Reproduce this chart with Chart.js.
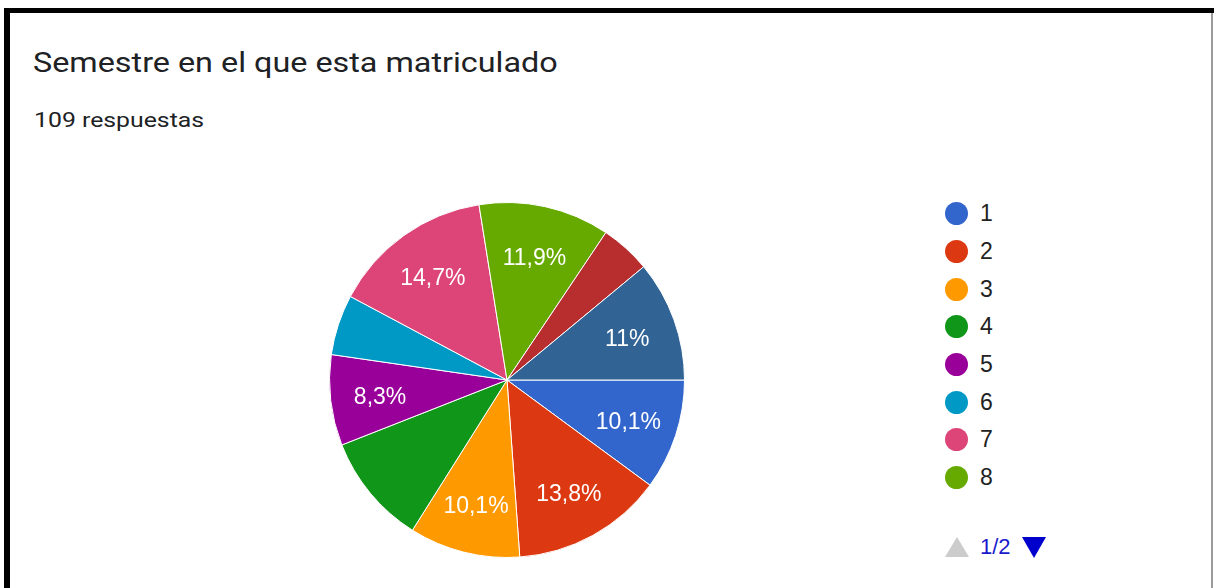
<!DOCTYPE html>
<html>
<head>
<meta charset="utf-8">
<script src="https://cdn.jsdelivr.net/npm/chart.js@4/dist/chart.umd.min.js"></script>
<style>
  html, body { margin: 0; padding: 0; background: #fff; }
  body { width: 1215px; height: 588px; position: relative; overflow: hidden; }
  #frameTop { position: absolute; left: 4px; top: 8px; width: 1210px; height: 5px; background: #000; }
  #frameLeft { position: absolute; left: 4px; top: 8px; width: 6px; height: 580px; background: #000; }
  #frameRight { position: absolute; left: 1211px; top: 13px; width: 2px; height: 575px; background: #9a9a9a; }
  #title { position: absolute; left: 33px; top: 49px; font: 28px Roboto, sans-serif; line-height: 28px; color: #202124; white-space: nowrap; transform: scaleX(1.155); transform-origin: 0 0; }
  #subtitle { position: absolute; left: 34px; top: 110px; font: 20px Roboto, sans-serif; line-height: 20px; color: #202124; white-space: nowrap; transform: scaleX(1.24); transform-origin: 0 0; }
  #chartBox { position: absolute; left: 329px; top: 202px; width: 356px; height: 356px; }
  #legend { position: absolute; left: 945px; top: 195px; font: 23px "Liberation Sans", Arial, sans-serif; color: #222; }
  .item { height: 37.7px; display: flex; align-items: center; }
  .dot { width: 23px; height: 23px; border-radius: 50%; margin-right: 12px; }
  #pager { position: absolute; left: 945px; top: 533px; height: 28px; display: flex; align-items: center; font: 22px "Liberation Sans", Arial, sans-serif; color: #1a1acc; }
  .up { width: 0; height: 0; border-left: 12px solid transparent; border-right: 12px solid transparent; border-bottom: 20px solid #cccccc; margin-right: 11px; }
  .down { width: 0; height: 0; border-left: 12px solid transparent; border-right: 12px solid transparent; border-top: 21px solid #0000cc; margin-left: 11px; }
</style>
</head>
<body>
<div id="frameTop"></div>
<div id="frameLeft"></div>
<div id="frameRight"></div>
<div id="title">Semestre en el que esta matriculado</div>
<div id="subtitle">109 respuestas</div>
<div id="chartBox"><canvas id="c"></canvas></div>
<div id="legend"></div>
<div id="pager"><div class="up"></div><span>1/2</span><div class="down"></div></div>
<script>
// Data
const categories = ["1", "2", "3", "4", "5", "6", "7", "8", "9", "10"];
const counts = [11, 15, 11, 11, 9, 6, 16, 13, 5, 12];
const sliceLabels = ["10,1%", "13,8%", "10,1%", "", "8,3%", "", "14,7%", "11,9%", "", "11%"];
const colors = ["#3366cc", "#dc3912", "#ff9900", "#109618", "#990099", "#0099c6", "#dd4477", "#66aa00", "#b82e2e", "#316395"];
const legendPageSize = 8;

const sliceLabelPlugin = {
  id: 'sliceLabels',
  afterDatasetsDraw(chart) {
    const ctx = chart.ctx;
    const meta = chart.getDatasetMeta(0);
    ctx.save();
    ctx.fillStyle = '#ffffff';
    ctx.font = '23px "Liberation Sans", Arial, sans-serif';
    ctx.textAlign = 'center';
    ctx.textBaseline = 'middle';
    meta.data.forEach((arc, i) => {
      const txt = sliceLabels[i];
      if (!txt) return;
      const p = arc.getProps(['x', 'y', 'startAngle', 'endAngle', 'outerRadius'], true);
      const mid = (p.startAngle + p.endAngle) / 2;
      const r = p.outerRadius * 0.72;
      ctx.fillText(txt, p.x + Math.cos(mid) * r, p.y + Math.sin(mid) * r + 3);
    });
    ctx.restore();
  }
};

const chart = new Chart(document.getElementById('c'), {
  type: 'pie',
  data: {
    labels: categories,
    datasets: [{
      data: counts,
      backgroundColor: colors,
      borderColor: '#ffffff',
      borderWidth: 1
    }]
  },
  options: {
    responsive: true,
    maintainAspectRatio: false,
    animation: false,
    rotation: 90,
    layout: { padding: 0 },
    plugins: {
      legend: { display: false },
      tooltip: { enabled: false }
    }
  },
  plugins: [sliceLabelPlugin]
});

// HTML legend (first page)
const legend = document.getElementById('legend');
chart.data.labels.slice(0, legendPageSize).forEach((lab, i) => {
  const item = document.createElement('div');
  item.className = 'item';
  const dot = document.createElement('div');
  dot.className = 'dot';
  dot.style.background = chart.data.datasets[0].backgroundColor[i];
  const t = document.createElement('span');
  t.textContent = lab;
  item.appendChild(dot);
  item.appendChild(t);
  legend.appendChild(item);
});
</script>
</body>
</html>
